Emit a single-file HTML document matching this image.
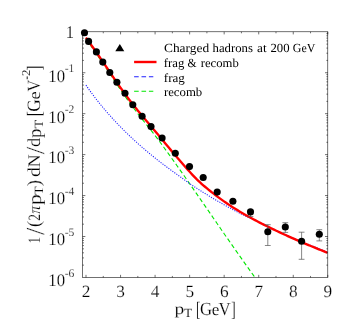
<!DOCTYPE html>
<html><head><meta charset="utf-8"><title>Charged hadrons at 200 GeV</title>
<style>html,body{margin:0;padding:0;background:#fff;}body{width:349px;height:319px;overflow:hidden;font-family:"Liberation Serif",serif;}svg{display:block;will-change:transform}text{text-rendering:geometricPrecision}text{font-family:"Liberation Serif",serif;fill:#000;stroke:#fff;stroke-width:0.18px}.lg text{stroke:none}</style></head><body>
<svg width="349" height="319" viewBox="0 0 349 319">
<rect width="349" height="319" fill="#fff"/>
<g>
<clipPath id="c"><rect x="82.55" y="31.80" width="245.25" height="245.65"/></clipPath>
<g clip-path="url(#c)" fill="none">
<path d="M85.95 38.87 L87.68 41.26 L89.40 43.66 L91.13 46.09 L92.85 48.55 L94.58 51.04 L96.30 53.55 L98.03 56.09 L99.75 58.64 L101.48 61.21 L103.20 63.79 L104.93 66.38 L106.65 68.97 L108.38 71.58 L110.11 74.18 L111.83 76.78 L113.56 79.37 L115.28 81.96 L117.01 84.53 L118.73 87.09 L120.46 89.64 L122.18 92.16 L123.91 94.66 L125.63 97.14 L127.36 99.58 L129.08 101.99 L130.81 104.37 L132.54 106.71 L134.26 109.01 L135.99 111.28 L137.71 113.51 L139.44 115.72 L141.16 117.91 L142.89 120.08 L144.61 122.25 L146.34 124.41 L148.06 126.58 L149.79 128.76 L151.51 130.96 L153.24 133.17 L154.96 135.41 L156.69 137.68 L158.42 139.96 L160.14 142.27 L161.87 144.61 L163.59 146.97 L165.32 149.34 L167.04 151.73 L168.77 154.13 L170.49 156.53 L172.22 158.95 L173.94 161.37 L175.67 163.80 L177.39 166.24 L179.12 168.68 L180.85 171.13 L182.57 173.59 L184.30 176.05 L186.02 178.52 L187.75 180.99 L189.47 183.47 L191.20 185.95 L192.92 188.43 L194.65 190.92 L196.37 193.41 L198.10 195.91 L199.82 198.41 L201.55 200.91 L203.27 203.41 L205.00 205.91 L206.73 208.42 L208.45 210.92 L210.18 213.43 L211.90 215.93 L213.63 218.44 L215.35 220.94 L217.08 223.45 L218.80 225.95 L220.53 228.45 L222.25 230.95 L223.98 233.44 L225.70 235.94 L227.43 238.43 L229.15 240.91 L230.88 243.39 L232.61 245.87 L234.33 248.35 L236.06 250.81 L237.78 253.28 L239.51 255.73 L241.23 258.19 L242.96 260.63 L244.68 263.07 L246.41 265.50 L248.13 267.92 L249.86 270.34 L251.58 272.75 L253.31 275.16 L255.04 277.56 L256.76 279.97 L258.49 282.38 L260.21 284.79 L261.94 287.19 L263.66 289.60 L265.39 292.01 L267.11 294.42 L268.84 296.82 L270.56 299.23 L272.29 301.64 L274.01 304.05 L275.74 306.46 L277.46 308.86 L279.19 311.27 L280.92 313.68 L282.64 316.09 L284.37 318.49 L286.09 320.90 L287.82 323.31 L289.54 325.72 L291.27 328.12 L292.99 330.53 L294.72 332.94 L296.44 335.35 L298.17 337.76 L299.89 340.16 L301.62 342.57 L303.35 344.98 L305.07 347.39 L306.80 349.79 L308.52 352.20 L310.25 354.61 L311.97 357.02 L313.70 359.42 L315.42 361.83 L317.15 364.24 L318.87 366.65 L320.60 369.06 L322.32 371.46 L324.05 373.87 L325.77 376.28 L327.50 378.69" stroke="#00e600" stroke-width="1.1" stroke-dasharray="4.3 2.7"/>
<path d="M85.95 85.17 L87.68 87.64 L89.40 90.06 L91.13 92.43 L92.85 94.75 L94.58 97.03 L96.30 99.26 L98.03 101.46 L99.75 103.61 L101.48 105.73 L103.20 107.81 L104.93 109.85 L106.65 111.86 L108.38 113.84 L110.11 115.79 L111.83 117.70 L113.56 119.59 L115.28 121.45 L117.01 123.27 L118.73 125.08 L120.46 126.85 L122.18 128.61 L123.91 130.33 L125.63 132.04 L127.36 133.72 L129.08 135.37 L130.81 137.01 L132.54 138.62 L134.26 140.22 L135.99 141.79 L137.71 143.35 L139.44 144.88 L141.16 146.40 L142.89 147.90 L144.61 149.38 L146.34 150.84 L148.06 152.29 L149.79 153.72 L151.51 155.13 L153.24 156.53 L154.96 157.92 L156.69 159.29 L158.42 160.64 L160.14 161.98 L161.87 163.31 L163.59 164.62 L165.32 165.92 L167.04 167.21 L168.77 168.48 L170.49 169.74 L172.22 170.99 L173.94 172.23 L175.67 173.46 L177.39 174.69 L179.12 175.94 L180.85 177.19 L182.57 178.45 L184.30 179.70 L186.02 180.95 L187.75 182.18 L189.47 183.40 L191.20 184.60 L192.92 185.77 L194.65 186.92 L196.37 188.04 L198.10 189.14 L199.82 190.24 L201.55 191.33 L203.27 192.41 L205.00 193.48 L206.73 194.54 L208.45 195.59 L210.18 196.64 L211.90 197.67 L213.63 198.70 L215.35 199.71 L217.08 200.72 L218.80 201.72 L220.53 202.72 L222.25 203.70 L223.98 204.68 L225.70 205.65 L227.43 206.61 L229.15 207.56 L230.88 208.51 L232.61 209.45 L234.33 210.38 L236.06 211.30 L237.78 212.20 L239.51 213.07 L241.23 213.93 L242.96 214.77 L244.68 215.61 L246.41 216.43 L248.13 217.26 L249.86 218.08 L251.58 218.91 L253.31 219.72 L255.04 220.52 L256.76 221.32 L258.49 222.11 L260.21 222.90 L261.94 223.69 L263.66 224.48 L265.39 225.27 L267.11 226.07 L268.84 226.87 L270.56 227.68 L272.29 228.49 L274.01 229.29 L275.74 230.09 L277.46 230.88 L279.19 231.67 L280.92 232.46 L282.64 233.24 L284.37 234.02 L286.09 234.79 L287.82 235.56 L289.54 236.32 L291.27 237.08 L292.99 237.83 L294.72 238.58 L296.44 239.33 L298.17 240.07 L299.89 240.81 L301.62 241.55 L303.35 242.28 L305.07 243.00 L306.80 243.73 L308.52 244.45 L310.25 245.16 L311.97 245.88 L313.70 246.58 L315.42 247.29 L317.15 247.99 L318.87 248.69 L320.60 249.38 L322.32 250.07 L324.05 250.76 L325.77 251.44 L327.50 252.12" stroke="#2020ff" stroke-width="1.1" stroke-dasharray="1.1 1.35"/>
<path d="M85.95 37.59 L87.68 40.00 L89.40 42.40 L91.13 44.82 L92.85 47.27 L94.58 49.75 L96.30 52.24 L98.03 54.75 L99.75 57.27 L101.48 59.81 L103.20 62.35 L104.93 64.90 L106.65 67.45 L108.38 69.99 L110.11 72.54 L111.83 75.08 L113.56 77.61 L115.28 80.12 L117.01 82.62 L118.73 85.11 L120.46 87.57 L122.18 90.00 L123.91 92.41 L125.63 94.79 L127.36 97.14 L129.08 99.46 L130.81 101.74 L132.54 103.97 L134.26 106.17 L135.99 108.33 L137.71 110.46 L139.44 112.56 L141.16 114.64 L142.89 116.70 L144.61 118.74 L146.34 120.78 L148.06 122.82 L149.79 124.85 L151.51 126.89 L153.24 128.94 L154.96 130.99 L156.69 133.05 L158.42 135.12 L160.14 137.20 L161.87 139.28 L163.59 141.36 L165.32 143.44 L167.04 145.51 L168.77 147.57 L170.49 149.62 L172.22 151.66 L173.94 153.68 L175.67 155.70 L177.39 157.70 L179.12 159.70 L180.85 161.69 L182.57 163.67 L184.30 165.66 L186.02 167.64 L187.75 169.61 L189.47 171.55 L191.20 173.47 L192.92 175.34 L194.65 177.16 L196.37 178.92 L198.10 180.61 L199.82 182.23 L201.55 183.79 L203.27 185.29 L205.00 186.75 L206.73 188.18 L208.45 189.58 L210.18 190.97 L211.90 192.34 L213.63 193.69 L215.35 195.02 L217.08 196.34 L218.80 197.63 L220.53 198.90 L222.25 200.14 L223.98 201.37 L225.70 202.56 L227.43 203.74 L229.15 204.89 L230.88 206.03 L232.61 207.14 L234.33 208.23 L236.06 209.31 L237.78 210.36 L239.51 211.41 L241.23 212.43 L242.96 213.44 L244.68 214.43 L246.41 215.41 L248.13 216.38 L249.86 217.34 L251.58 218.28 L253.31 219.21 L255.04 220.13 L256.76 221.04 L258.49 221.95 L260.21 222.84 L261.94 223.72 L263.66 224.60 L265.39 225.46 L267.11 226.32 L268.84 227.17 L270.56 228.01 L272.29 228.85 L274.01 229.68 L275.74 230.50 L277.46 231.31 L279.19 232.12 L280.92 232.92 L282.64 233.72 L284.37 234.51 L286.09 235.30 L287.82 236.08 L289.54 236.85 L291.27 237.62 L292.99 238.39 L294.72 239.15 L296.44 239.90 L298.17 240.65 L299.89 241.39 L301.62 242.14 L303.35 242.87 L305.07 243.60 L306.80 244.33 L308.52 245.06 L310.25 245.78 L311.97 246.49 L313.70 247.20 L315.42 247.91 L317.15 248.61 L318.87 249.31 L320.60 250.01 L322.32 250.70 L324.05 251.39 L325.77 252.08 L327.50 252.76" stroke="#ff0000" stroke-width="2.35" />
</g>
<g stroke="#000" stroke-width="0.56" fill="none">
<rect x="82.55" y="31.80" width="245.25" height="245.65"/>
<path d="M86.00 277.45v-2.60 M86.00 31.80v2.60 M103.28 277.45v-1.50 M103.28 31.80v1.50 M120.55 277.45v-2.60 M120.55 31.80v2.60 M137.82 277.45v-1.50 M137.82 31.80v1.50 M155.09 277.45v-2.60 M155.09 31.80v2.60 M172.36 277.45v-1.50 M172.36 31.80v1.50 M189.63 277.45v-2.60 M189.63 31.80v2.60 M206.90 277.45v-1.50 M206.90 31.80v1.50 M224.17 277.45v-2.60 M224.17 31.80v2.60 M241.44 277.45v-1.50 M241.44 31.80v1.50 M258.72 277.45v-2.60 M258.72 31.80v2.60 M275.99 277.45v-1.50 M275.99 31.80v1.50 M293.26 277.45v-2.60 M293.26 31.80v2.60 M310.53 277.45v-1.50 M310.53 31.80v1.50 M327.80 277.45v-2.60 M327.80 31.80v2.60 M82.55 60.42h1.4 M327.80 60.42h-1.4 M82.55 53.21h1.4 M327.80 53.21h-1.4 M82.55 48.09h1.4 M327.80 48.09h-1.4 M82.55 44.12h1.4 M327.80 44.12h-1.4 M82.55 40.88h1.4 M327.80 40.88h-1.4 M82.55 38.14h1.4 M327.80 38.14h-1.4 M82.55 35.77h1.4 M327.80 35.77h-1.4 M82.55 33.67h1.4 M327.80 33.67h-1.4 M82.55 72.74h2.8 M327.80 72.74h-2.8 M82.55 101.36h1.4 M327.80 101.36h-1.4 M82.55 94.15h1.4 M327.80 94.15h-1.4 M82.55 89.03h1.4 M327.80 89.03h-1.4 M82.55 85.07h1.4 M327.80 85.07h-1.4 M82.55 81.82h1.4 M327.80 81.82h-1.4 M82.55 79.08h1.4 M327.80 79.08h-1.4 M82.55 76.71h1.4 M327.80 76.71h-1.4 M82.55 74.62h1.4 M327.80 74.62h-1.4 M82.55 113.68h2.8 M327.80 113.68h-2.8 M82.55 142.30h1.4 M327.80 142.30h-1.4 M82.55 135.09h1.4 M327.80 135.09h-1.4 M82.55 129.98h1.4 M327.80 129.98h-1.4 M82.55 126.01h1.4 M327.80 126.01h-1.4 M82.55 122.77h1.4 M327.80 122.77h-1.4 M82.55 120.03h1.4 M327.80 120.03h-1.4 M82.55 117.65h1.4 M327.80 117.65h-1.4 M82.55 115.56h1.4 M327.80 115.56h-1.4 M82.55 154.62h2.8 M327.80 154.62h-2.8 M82.55 183.24h1.4 M327.80 183.24h-1.4 M82.55 176.03h1.4 M327.80 176.03h-1.4 M82.55 170.92h1.4 M327.80 170.92h-1.4 M82.55 166.95h1.4 M327.80 166.95h-1.4 M82.55 163.71h1.4 M327.80 163.71h-1.4 M82.55 160.97h1.4 M327.80 160.97h-1.4 M82.55 158.59h1.4 M327.80 158.59h-1.4 M82.55 156.50h1.4 M327.80 156.50h-1.4 M82.55 195.57h2.8 M327.80 195.57h-2.8 M82.55 224.18h1.4 M327.80 224.18h-1.4 M82.55 216.97h1.4 M327.80 216.97h-1.4 M82.55 211.86h1.4 M327.80 211.86h-1.4 M82.55 207.89h1.4 M327.80 207.89h-1.4 M82.55 204.65h1.4 M327.80 204.65h-1.4 M82.55 201.91h1.4 M327.80 201.91h-1.4 M82.55 199.53h1.4 M327.80 199.53h-1.4 M82.55 197.44h1.4 M327.80 197.44h-1.4 M82.55 236.51h2.8 M327.80 236.51h-2.8 M82.55 265.13h1.4 M327.80 265.13h-1.4 M82.55 257.92h1.4 M327.80 257.92h-1.4 M82.55 252.80h1.4 M327.80 252.80h-1.4 M82.55 248.83h1.4 M327.80 248.83h-1.4 M82.55 245.59h1.4 M327.80 245.59h-1.4 M82.55 242.85h1.4 M327.80 242.85h-1.4 M82.55 240.48h1.4 M327.80 240.48h-1.4 M82.55 238.38h1.4 M327.80 238.38h-1.4 "/>
</g>
<g stroke="#555" stroke-width="0.7" fill="none">
<path d="M267.80 224.70V245.50 M264.90 224.70h5.8 M264.90 245.50h5.8"/>
<path d="M285.30 222.70V232.40 M282.40 222.70h5.8 M282.40 232.40h5.8"/>
<path d="M301.60 232.20V259.30 M298.70 232.20h5.8 M298.70 259.30h5.8"/>
<path d="M319.30 229.70V240.90 M316.40 229.70h5.8 M316.40 240.90h5.8"/>
<path d="M250.50 210.00V216.60 M247.60 210.00h5.8 M247.60 216.60h5.8"/>
</g>
<g fill="#000">
<circle cx="84.50" cy="32.80" r="3.55"/>
<circle cx="88.60" cy="41.40" r="3.55"/>
<circle cx="96.40" cy="51.90" r="3.55"/>
<circle cx="102.80" cy="62.10" r="3.55"/>
<circle cx="109.80" cy="72.50" r="3.55"/>
<circle cx="116.90" cy="82.20" r="3.55"/>
<circle cx="125.00" cy="93.30" r="3.55"/>
<circle cx="132.80" cy="104.70" r="3.55"/>
<circle cx="142.10" cy="116.20" r="3.55"/>
<circle cx="151.00" cy="126.60" r="3.55"/>
<circle cx="162.10" cy="138.00" r="3.55"/>
<circle cx="175.30" cy="153.30" r="3.55"/>
<circle cx="189.50" cy="166.60" r="3.55"/>
<circle cx="203.20" cy="177.50" r="3.55"/>
<circle cx="217.20" cy="192.10" r="3.55"/>
<circle cx="232.90" cy="201.30" r="3.55"/>
<circle cx="250.50" cy="211.90" r="3.55"/>
<circle cx="267.80" cy="231.70" r="3.55"/>
<circle cx="285.30" cy="227.00" r="3.55"/>
<circle cx="301.60" cy="241.20" r="3.55"/>
<circle cx="319.30" cy="234.30" r="3.55"/>
</g>
<path d="M119.8 44.0L124.3 51.3H115.3Z" fill="#000"/>
<path d="M134.1 62.0H156.5" stroke="#ff0000" stroke-width="2.4" fill="none"/>
<path d="M134.1 76.8H153.3" stroke="#2020ff" stroke-width="1.1" stroke-dasharray="4.6 2.8" fill="none"/>
<path d="M134.1 91.3H153.3" stroke="#00e600" stroke-width="1.1" stroke-dasharray="4.6 2.8" fill="none"/>
<g class="lg">
<text font-size="12.4" transform="translate(164.50 52.00) scale(1.0809 1) translate(-0.496 0)">Charged</text>
<text font-size="12.4" transform="translate(212.70 52.00) scale(1.0262 1) translate(-0.124 0)">hadrons</text>
<text font-size="12.4" transform="translate(257.50 52.00) scale(1.0674 1) translate(-0.434 0)">at</text>
<text font-size="12.4" transform="translate(271.00 52.00) scale(1.0259 1) translate(-0.558 0)">200</text>
<text font-size="12.4" transform="translate(293.30 52.00) scale(0.9669 1) translate(-0.496 0)">GeV</text>
<text font-size="12.4" transform="translate(164.20 66.80) scale(1.0287 1) translate(-0.372 0)">frag</text>
<text font-size="12.4" transform="translate(188.00 66.80) scale(0.9521 1) translate(-0.496 0)">&amp;</text>
<text font-size="12.4" transform="translate(201.00 66.80) scale(1.0232 1) translate(-0.248 0)">recomb</text>
<text font-size="12.4" transform="translate(164.20 81.50) scale(1.0546 1) translate(-0.372 0)">frag</text>
<text font-size="12.4" transform="translate(164.20 96.10) scale(1.0314 1) translate(-0.248 0)">recomb</text>
</g>
<g font-size="17.30" text-anchor="middle">
<text x="86.10" y="296.7">2</text>
<text x="120.65" y="296.7">3</text>
<text x="155.19" y="296.7">4</text>
<text x="189.73" y="296.7">5</text>
<text x="224.27" y="296.7">6</text>
<text x="258.82" y="296.7">7</text>
<text x="293.36" y="296.7">8</text>
<text x="327.90" y="296.7">9</text>
</g>
<text font-size="17.5" transform="translate(67.30 26.10) scale(0.9469 1.0207) translate(-1.575 11.463)">1</text>
<text font-size="17.5" transform="translate(49.80 69.84) scale(0.9589 1.0116) translate(-1.575 11.638)">10</text>
<text x="64.7" y="71.79" font-size="11.6">-1</text>
<text font-size="17.5" transform="translate(49.80 110.78) scale(0.9589 1.0116) translate(-1.575 11.638)">10</text>
<text x="64.7" y="112.73" font-size="11.6">-2</text>
<text font-size="17.5" transform="translate(49.80 151.72) scale(0.9589 1.0116) translate(-1.575 11.638)">10</text>
<text x="64.7" y="153.68" font-size="11.6">-3</text>
<text font-size="17.5" transform="translate(49.80 192.67) scale(0.9589 1.0116) translate(-1.575 11.638)">10</text>
<text x="64.7" y="194.62" font-size="11.6">-4</text>
<text font-size="17.5" transform="translate(49.80 233.61) scale(0.9589 1.0116) translate(-1.575 11.638)">10</text>
<text x="64.7" y="235.56" font-size="11.6">-5</text>
<text font-size="17.5" transform="translate(49.80 274.55) scale(0.9589 1.0116) translate(-1.575 11.638)">10</text>
<text x="64.7" y="276.50" font-size="11.6">-6</text>
<text font-size="17.8" transform="translate(174.70 306.90) scale(1.0983 0.9005) translate(-0.267 8.366)">p</text>
<text font-size="17.8" transform="translate(184.20 309.30) scale(0.7523 0.7001) translate(-0.356 11.570)">T</text>
<text font-size="17.8" transform="translate(197.00 301.60) scale(0.7406 1.1576) translate(-1.335 12.282)">[</text>
<text font-size="17.8" transform="translate(200.60 302.40) scale(0.9421 1.0481) translate(-0.712 11.748)">G</text>
<text font-size="17.8" transform="translate(212.40 306.80) scale(0.9566 0.9480) translate(-0.712 8.366)">e</text>
<text font-size="17.8" transform="translate(218.70 302.70) scale(0.9470 1.0391) translate(-0.178 11.570)">V</text>
<text font-size="17.8" transform="translate(231.80 301.60) scale(0.7491 1.1576) translate(-0.623 12.282)">]</text>
<text font-size="17.8" transform="translate(28.70 242.40) rotate(-90) scale(0.7223 0.9778) translate(-1.602 11.659)">1</text>
<text font-size="17.8" transform="translate(26.60 235.10) rotate(-90) scale(1.4913 1.4615) translate(-0.000 11.659)">/</text>
<text font-size="17.8" transform="translate(26.80 226.10) rotate(-90) scale(1.0134 1.0612) translate(-0.801 12.282)">(</text>
<text font-size="17.8" transform="translate(28.70 220.20) rotate(-90) scale(0.7584 0.9704) translate(-0.801 11.748)">2</text>
<text font-size="17.8" font-style="italic" transform="translate(32.50 213.70) rotate(-90) scale(0.8859 0.9545) translate(-0.089 8.099)">π</text>
<text font-size="17.8" transform="translate(32.20 204.80) rotate(-90) scale(1.2120 1.0575) translate(-0.267 8.366)">p</text>
<text font-size="17.8" transform="translate(34.90 194.60) rotate(-90) scale(0.7719 0.7087) translate(-0.356 11.570)">T</text>
<text font-size="17.8" transform="translate(26.80 185.60) rotate(-90) scale(1.0588 1.0612) translate(-0.534 12.282)">)</text>
<text font-size="17.8" transform="translate(27.70 176.20) rotate(-90) scale(1.1236 1.0193) translate(-0.623 12.282)">d</text>
<text font-size="17.8" transform="translate(28.70 166.60) rotate(-90) scale(0.9978 0.9939) translate(-0.534 11.570)">N</text>
<text font-size="17.8" transform="translate(26.60 154.20) rotate(-90) scale(1.5117 1.4615) translate(-0.000 11.659)">/</text>
<text font-size="17.8" transform="translate(27.70 146.30) rotate(-90) scale(1.0372 1.0193) translate(-0.623 12.282)">d</text>
<text font-size="17.8" transform="translate(32.20 137.60) rotate(-90) scale(1.0605 1.0575) translate(-0.267 8.366)">p</text>
<text font-size="17.8" transform="translate(34.90 128.10) rotate(-90) scale(0.8012 0.7087) translate(-0.356 11.570)">T</text>
<text font-size="17.8" transform="translate(26.90 115.00) rotate(-90) scale(0.8427 1.1508) translate(-1.335 12.282)">[</text>
<text font-size="17.8" transform="translate(27.90 111.10) rotate(-90) scale(0.9767 1.0565) translate(-0.712 11.748)">G</text>
<text font-size="17.8" transform="translate(32.30 98.70) rotate(-90) scale(1.0325 0.9480) translate(-0.712 8.366)">e</text>
<text font-size="17.8" transform="translate(28.10 91.30) rotate(-90) scale(0.9069 1.0476) translate(-0.178 11.570)">V</text>
<text font-size="17.8" transform="translate(26.60 79.40) rotate(-90) scale(0.6050 0.8989) translate(-0.623 4.895)">-</text>
<text font-size="17.8" transform="translate(22.50 75.50) rotate(-90) scale(0.7163 0.6725) translate(-0.801 11.748)">2</text>
<text font-size="17.8" transform="translate(26.90 69.90) rotate(-90) scale(0.8489 1.1508) translate(-0.623 12.282)">]</text>
</g></svg></body></html>
